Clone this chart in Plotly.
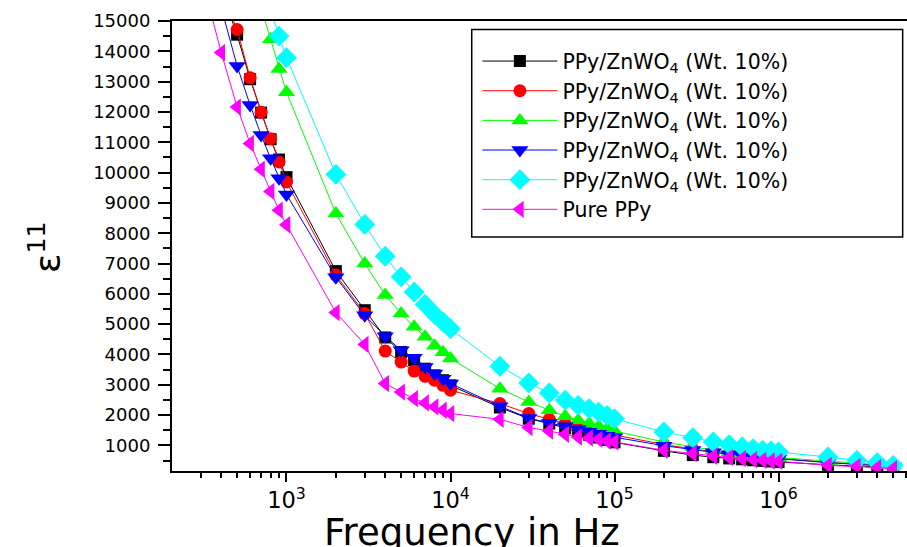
import plotly.graph_objects as go

freq = [300, 400, 500, 600, 700, 800, 900, 1000,
        2000, 3000, 4000, 5000, 6000, 7000, 8000, 9000, 10000,
        20000, 30000, 40000, 50000, 60000, 70000, 80000, 90000, 100000,
        200000, 300000, 400000, 500000, 600000, 700000, 800000, 900000, 1000000,
        2000000, 3000000, 4000000, 5000000]

s_black = [None, 16000, 14550, 13080, 11980, 11100, 10430, 9850,
           6750, 5460, 4560, 4080, 3810, 3530, 3310, 3150, 2980,
           2250, 1880, 1720, 1560, 1450, 1350, 1260, 1180, 1100,
           820, 680, 610, 570, 540, 510, 490, 470, 455,
           360, 320, 290, 260]
s_red = [None, 16000, 14720, 13130, 11990, 11120, 10350, 9690,
         6620, 5350, 4110, 3750, 3450, 3280, 3150, 2980, 2820,
         2380, 2050, 1860, 1720, 1610, 1520, 1450, 1390, 1340,
         1030, 880, 790, 720, 680, 640, 610, 590, 570,
         440, 390, 350, 310]
s_green = [None, None, None, None, 15450, 14400, 13420, 12650,
           8650, 7000, 5960, 5350, 4910, 4580, 4290, 4070, 3870,
           2870, 2430, 2160, 1960, 1830, 1720, 1630, 1550, 1475,
           1111, 946, 840, 770, 720, 680, 650, 620, 600,
           480, 420, 380, 330]
s_blue = [None, 15440, 13520, 12230, 11240, 10470, 9810, 9280,
          6550, 5290, 4600, 4140, 3890, 3590, 3370, 3200, 3040,
          2290, 1900, 1740, 1630, 1530, 1450, 1380, 1320, 1270,
          990, 850, 770, 710, 670, 630, 600, 580, 560,
          430, 380, 345, 300]
s_cyan = [None, None, None, None, None, 15350, 14500, 13790,
          9940, 8290, 7240, 6560, 6060, 5650, 5320, 5070, 4850,
          3610, 3060, 2730, 2490, 2320, 2210, 2100, 1990, 1880,
          1441, 1256, 1111, 1025, 946, 893, 837, 815, 782,
          617, 508, 432, 343]
s_pure = [16560, 13960, 12160, 10960, 10110, 9380, 8760, 8280,
          5380, 4330, 3040, 2760, 2540, 2400, 2270, 2160, 2050,
          1860, 1590, 1475, 1365, 1276, 1243, 1200, 1144, 1111,
          837, 729, 639, 597, 563, 530, 508, 485, 475,
          343, 310, 266, 232]

names = ["PPy/ZnWO<sub>4</sub> (Wt. 10%)"] * 5 + ["Pure PPy"]
series = [s_black, s_red, s_green, s_blue, s_cyan, s_pure]
colors = ["#000000", "#FF0000", "#00FF00", "#0000FF", "#00FFFF", "#FF00FF"]
symbols = ["square", "circle", "triangle-up", "triangle-down", "diamond", "triangle-left"]
sizes = [12, 13, 15, 15, 16, 15]

fig = go.Figure()
for name, ys, c, sym, sz in zip(names, series, colors, symbols, sizes):
    fig.add_trace(go.Scatter(
        x=freq, y=ys, name=name, mode="lines+markers",
        line=dict(color=c, width=1),
        marker=dict(symbol=sym, size=sz, color=c, line=dict(width=0)),
        cliponaxis=True,
    ))

FONT = "DejaVu Sans"
fig.update_layout(
    width=907, height=547,
    margin=dict(l=172, r=0, t=21, b=76),
    paper_bgcolor="white", plot_bgcolor="white",
    font=dict(family=FONT, color="black"),
    showlegend=True,
    legend=dict(
        x=0.4155, y=0.955, xanchor="left", yanchor="top",
        bgcolor="rgba(0,0,0,0)", borderwidth=0,
        font=dict(family=FONT, size=20.5, color="black"),
        itemwidth=75,
    ),
)
fig.update_xaxes(
    type="log", range=[2.302, 6.783],
    showgrid=False, zeroline=False,
    showline=True, linecolor="black", linewidth=2, mirror=True,
    ticks="outside", ticklen=9, tickwidth=1.5, tickcolor="black",
    dtick=1, exponentformat="power",
    tickfont=dict(family=FONT, size=18, color="black"),
    minor=dict(ticks="outside", ticklen=5, tickwidth=1.5, tickcolor="black", dtick="D1", showgrid=False),
)
fig.update_yaxes(
    range=[155, 15001],
    showgrid=False, zeroline=False,
    showline=True, linecolor="black", linewidth=2, mirror=False,
    ticks="outside", ticklen=12, tickwidth=1.5, tickcolor="black",
    tick0=0, dtick=1000, tickformat="d", ticklabelstandoff=4,
    tickfont=dict(family=FONT, size=18, color="black"),
    minor=dict(ticks="outside", ticklen=7, tickwidth=1.5, tickcolor="black", dtick=500, showgrid=False),
)

# legend frame
fig.add_shape(type="rect", xref="paper", yref="paper",
              x0=0.4078, x1=0.9941, y0=0.52, y1=0.981,
              line=dict(color="black", width=1.5), fillcolor="white", layer="above")

fig.add_annotation(text="Frequency in Hz", xref="paper", yref="paper",
                   x=0.408, y=-0.137, xanchor="center", yanchor="middle",
                   showarrow=False, font=dict(family=FONT, size=37, color="black"))
fig.add_annotation(text="\u03b5<sup>11</sup>", xref="paper", yref="paper",
                   x=-0.172, y=0.497, xanchor="center", yanchor="middle",
                   textangle=-90, showarrow=False,
                   font=dict(family=FONT, size=36, color="black"))

fig.write_html("out.html")
